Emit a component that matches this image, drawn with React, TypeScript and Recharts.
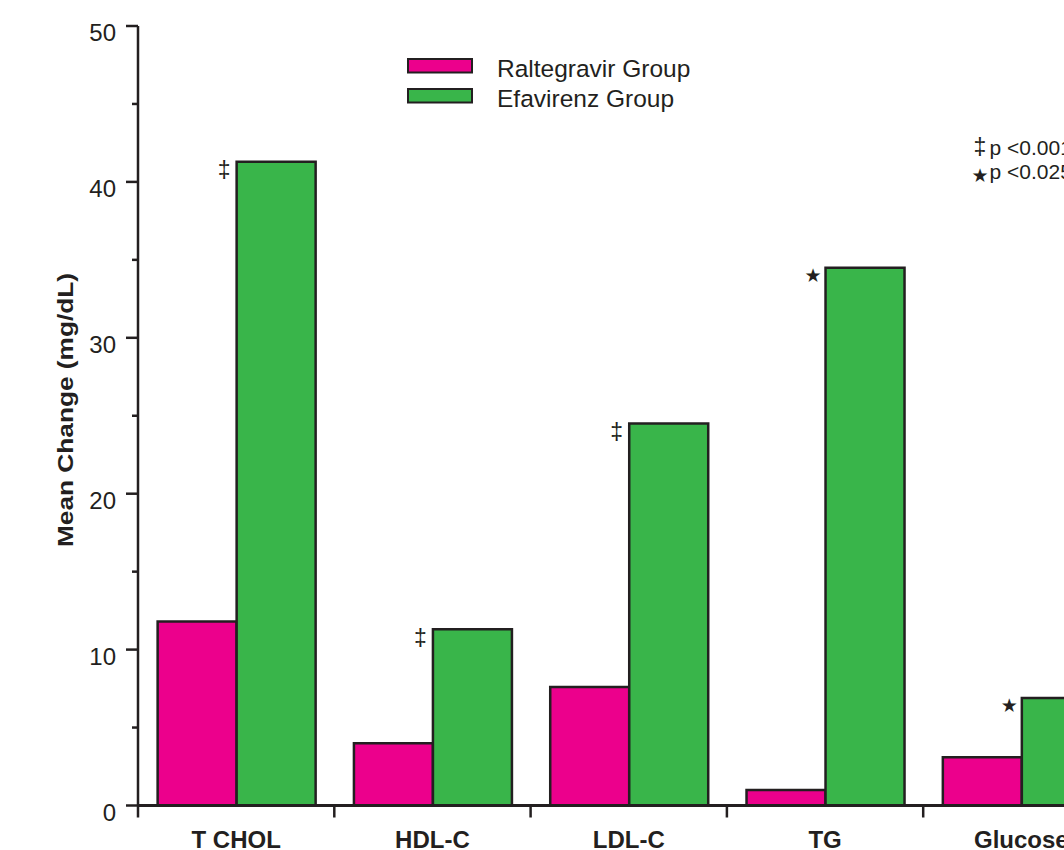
import React from "react";
import { BarChart, Bar, XAxis, YAxis, Legend, LabelList } from "recharts";

const categories = ["T CHOL", "HDL-C", "LDL-C", "TG", "Glucose"];
const raltegravir = [11.8, 4.0, 7.6, 1.0, 3.1];
const efavirenz = [41.3, 11.3, 24.5, 34.5, 6.9];
const marks = ["‡", "‡", "‡", "★", "★"];
const yTicks = [0, 5, 10, 15, 20, 25, 30, 35, 40, 45, 50];
const seriesNames = ["Raltegravir Group", "Efavirenz Group"];
const notes = [
  { symbol: "‡", text: "p <0.001" },
  { symbol: "★", text: "p <0.025" },
];

const PINK = "#EC008C";
const GREEN = "#39B54A";
const INK = "#231F20";
const FONT = "'Liberation Sans', Arial, Helvetica, sans-serif";
const seriesColors = [PINK, GREEN];

// layout
const CHART_W = 1140;
const CHART_H = 850;
const AXIS_W = 138;
const RIGHT = 20.5;
const HALF_BAND = (CHART_W - AXIS_W - RIGHT) / categories.length / 2;

const data = categories.map((name, i) => ({
  name,
  ral: raltegravir[i],
  efa: efavirenz[i],
  mark: marks[i],
}));

function YTick(props: any) {
  const { x, y, payload } = props;
  const major = payload.value % 10 === 0;
  return (
    <g>
      <line x1={x - (major ? 12 : 6)} x2={x} y1={y} y2={y} stroke={INK} strokeWidth={2.5} />
      {major && (
        <text x={x - 22} y={y + 15} textAnchor="end" fontSize={24} fontFamily={FONT} fill={INK}>
          {payload.value}
        </text>
      )}
    </g>
  );
}

function XTick(props: any) {
  const { x, y, payload } = props;
  return (
    <g>
      <line x1={x - HALF_BAND} x2={x - HALF_BAND} y1={y} y2={y + 12} stroke={INK} strokeWidth={2.5} />
      <text x={x} y={y + 42} textAnchor="middle" fontSize={24} fontWeight="bold" fontFamily={FONT} fill={INK}>
        {payload.value}
      </text>
    </g>
  );
}

function Symbol({ x, y, value }: { x: number; y: number; value: string }) {
  const star = value === "★";
  return (
    <text
      x={x}
      y={y}
      textAnchor="middle"
      dominantBaseline="central"
      fontSize={star ? 19 : 23}
      fontFamily={star ? "'DejaVu Sans', sans-serif" : FONT}
      fill={INK}
    >
      {value}
    </text>
  );
}

function MarkLabel(props: any) {
  const { x, y, value } = props;
  const star = value === "★";
  return <Symbol x={x - 12.5} y={y + (star ? 7 : 8.5)} value={value} />;
}

function LegendBox() {
  return (
    <svg width={740} height={140} style={{ overflow: "visible" }}>
      {seriesNames.map((name, i) => (
        <g key={name}>
          <rect x={8} y={9 + i * 30} width={64} height={13.5} fill={seriesColors[i]} stroke={INK} strokeWidth={2} />
          <text x={97} y={27 + i * 30} fontSize={24.5} fontFamily={FONT} fill={INK}>
            {name}
          </text>
        </g>
      ))}
      {notes.map((n, i) => (
        <g key={n.text}>
          <Symbol x={580} y={96.5 + i * 28.5} value={n.symbol} />
          <text x={589.5} y={105 + i * 24} fontSize={21} fontFamily={FONT} fill={INK}>
            {n.text}
          </text>
        </g>
      ))}
    </svg>
  );
}

export default function App() {
  return (
    <div
      style={{
        position: "absolute",
        left: 0,
        top: 0,
        width: 1064,
        height: 850,
        overflow: "hidden",
        background: "#fff",
      }}
    >
      <BarChart
        width={CHART_W}
        height={CHART_H}
        data={data}
        margin={{ top: 26, right: RIGHT, left: 0, bottom: 0 }}
        barCategoryGap="10%"
        barGap={0}
      >
        <XAxis
          dataKey="name"
          height={44.5}
          interval={0}
          tickSize={0}
          tickMargin={0}
          tickLine={false}
          axisLine={{ stroke: INK, strokeWidth: 3 }}
          tick={<XTick />}
        />
        <YAxis
          width={AXIS_W}
          domain={[0, 50]}
          ticks={yTicks}
          interval={0}
          tickSize={0}
          tickMargin={0}
          tickLine={false}
          axisLine={{ stroke: INK, strokeWidth: 2.5 }}
          tick={<YTick />}
          label={{
            content: () => (
              <text
                x={73}
                y={410}
                transform="rotate(-90, 73, 410)"
                textAnchor="middle"
                fontSize={21.5}
                fontWeight="bold"
                fontFamily={FONT}
                fill={INK}
                textLength={274}
                lengthAdjust="spacingAndGlyphs"
              >
                Mean Change (mg/dL)
              </text>
            ),
          }}
        />
        <Legend
          layout="vertical"
          align="center"
          verticalAlign="middle"
          wrapperStyle={{ left: 400, top: 50, width: 740, height: 140 }}
          content={<LegendBox />}
        />
        <Bar
          dataKey="ral"
          name={seriesNames[0]}
          fill={PINK}
          stroke={INK}
          strokeWidth={2.5}
          isAnimationActive={false}
        />
        <Bar
          dataKey="efa"
          name={seriesNames[1]}
          fill={GREEN}
          stroke={INK}
          strokeWidth={2.5}
          isAnimationActive={false}
        >
          <LabelList dataKey="mark" content={<MarkLabel />} />
        </Bar>
      </BarChart>
    </div>
  );
}
